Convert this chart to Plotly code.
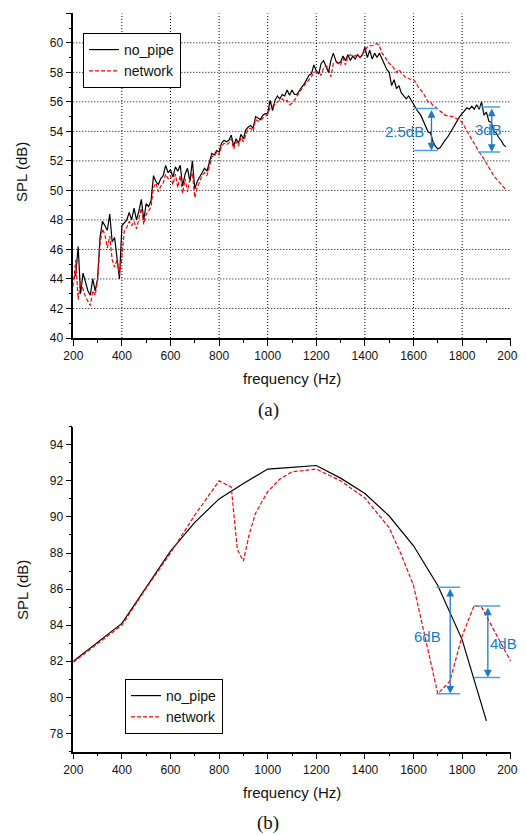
import plotly.graph_objects as go

# ---------------- data: panel (a) ----------------
freq_a = [
    200, 210, 220, 230, 240, 250, 260, 270, 280, 290,
    300, 310, 320, 330, 340, 350, 360, 370, 380, 390,
    400, 410, 420, 430, 440, 450, 460, 470, 480, 490,
    500, 510, 520, 530, 540, 550, 560, 570, 580, 590,
    600, 610, 620, 630, 640, 650, 660, 670, 680, 690,
    700, 710, 720, 730, 740, 750, 760, 770, 780, 790,
    800, 810, 820, 830, 840, 850, 860, 870, 880, 890,
    900, 910, 920, 930, 940, 950, 960, 970, 980, 990,
    1000, 1010, 1020, 1030, 1040, 1050, 1060, 1070, 1080, 1090,
    1100, 1110, 1120, 1130, 1140, 1150, 1160, 1170, 1180, 1190,
    1200, 1210, 1220, 1230, 1240, 1250, 1260, 1270, 1280, 1290,
    1300, 1310, 1320, 1330, 1340, 1350, 1360, 1370, 1380, 1390,
    1400, 1410, 1420, 1430, 1440, 1450, 1460, 1470, 1480, 1490,
    1500, 1510, 1520, 1530, 1540, 1550, 1560, 1570, 1580, 1590,
    1600, 1610, 1620, 1630, 1640, 1650, 1660, 1670, 1680, 1690,
    1700, 1710, 1720, 1730, 1740, 1750, 1760, 1770, 1780, 1790,
    1800, 1810, 1820, 1830, 1840, 1850, 1860, 1870, 1880, 1890,
    1900, 1910, 1920, 1930, 1940, 1950, 1960, 1970, 1980,
]
spl_a_no_pipe = [
    44.0, 44.3, 46.2, 43.0, 44.4, 43.7, 43.2, 42.9, 44.0, 43.2,
    44.0, 46.8, 47.9, 47.6, 47.3, 48.4, 46.5, 46.8, 45.5, 44.0,
    47.6, 47.8, 48.0, 48.5, 48.0, 48.8, 48.0, 48.6, 49.4, 48.0,
    49.1, 48.9, 49.3, 51.0, 50.6, 50.4, 50.8, 51.0, 51.7, 51.2,
    51.4, 50.9, 51.6, 51.3, 51.7, 50.3, 51.1, 51.5, 50.6, 52.0,
    50.1, 50.6, 50.9, 51.2, 51.5, 51.3, 51.9, 52.5, 52.4, 52.7,
    52.6, 53.2, 53.4, 53.3, 53.4, 53.75, 53.0, 53.5, 53.2, 53.8,
    53.5, 54.1, 54.3, 54.4, 54.2, 55.0, 54.9, 54.8, 55.1, 55.2,
    55.2, 56.1, 55.4, 56.1, 56.4, 56.2, 56.5, 56.4, 56.8, 56.45,
    56.8, 56.5, 56.5, 56.8, 57.0, 57.2, 57.5, 57.8, 57.9, 58.5,
    58.1, 57.9, 58.6, 58.8, 58.4, 58.0, 58.8, 59.3, 58.8, 58.6,
    58.7, 59.1, 58.8, 59.2, 58.8, 59.1, 58.9, 59.2, 59.0, 59.2,
    59.7, 59.0, 59.5, 58.9, 59.3, 59.0, 59.3, 58.9, 58.5, 58.2,
    58.0, 57.1, 57.5, 56.9, 57.1, 56.6, 56.4, 56.2, 56.4, 56.1,
    55.9, 55.6, 55.3, 55.1, 54.7, 54.4, 53.95, 53.9, 53.3, 53.0,
    52.8, 52.9, 53.2, 53.4, 53.6, 53.9, 54.2, 54.5, 54.7, 55.0,
    55.2, 55.4, 55.6, 55.5, 55.7, 55.5, 55.8, 55.5, 56.0, 55.1,
    55.3, 54.7, 54.6, 54.0, 53.9, 53.6, 53.4, 53.1, 52.95,
]
spl_a_network = [
    43.5, 45.3, 42.6, 43.8, 43.3, 42.8, 42.5, 42.2, 43.2, 42.9,
    43.9, 46.4, 47.4, 47.0, 46.1, 46.9, 45.3, 44.8, 45.3, 44.3,
    45.5, 47.3, 47.5, 47.9, 47.6, 47.9, 47.4, 48.2, 48.8, 47.7,
    48.4, 48.6, 48.9, 50.2, 50.5, 49.9, 50.3, 50.5, 51.1, 50.8,
    51.0, 50.4, 51.1, 50.2, 51.0, 49.8, 50.8, 49.9, 50.8, 51.2,
    49.5, 50.2, 50.6, 51.0, 51.2, 51.0, 51.6, 52.3, 52.3, 52.6,
    52.4, 53.0, 53.2, 53.1, 53.2, 53.5, 52.8, 53.3, 53.0, 53.6,
    53.3, 53.8, 54.2, 54.2, 54.0, 54.8, 54.7, 54.7, 54.9, 55.0,
    55.2, 55.6, 55.7, 55.8, 56.0, 56.1, 56.2, 56.0, 56.1, 55.8,
    55.9, 56.1, 56.4, 56.6, 56.9, 57.1, 57.3, 57.5, 57.7, 58.0,
    58.05, 58.0, 57.8, 58.3, 58.45, 58.3, 57.7, 58.6, 58.7, 58.6,
    58.5, 58.95, 58.5, 59.1, 59.2, 59.05, 59.15, 59.2, 59.0, 59.3,
    59.5, 59.7, 59.8, 59.8, 59.9, 59.95, 59.8, 59.3, 59.1, 58.8,
    58.6, 58.5, 58.2, 58.0, 58.2, 57.95, 57.8, 57.6, 57.6, 57.5,
    57.5, 57.3, 57.0, 56.8, 56.6, 56.3, 56.0, 56.0, 55.75, 55.65,
    55.5, 55.4, 55.2, 55.1, 55.05, 55.05, 55.0, 54.9, 54.85, 54.8,
    54.6, 54.3, 54.0, 53.7, 53.45, 53.2, 52.9, 52.6, 52.4, 52.1,
    51.8, 51.5, 51.2, 51.0, 50.8, 50.6, 50.4, 50.2, 50.05,
]

# ---------------- data: panel (b) ----------------
freq_b_no_pipe = [200, 300, 400, 500, 600, 700, 800, 900, 1000, 1100,
                  1200, 1300, 1400, 1500, 1600, 1700, 1800, 1900]
spl_b_no_pipe = [82.0, 83.05, 84.1, 86.1, 88.1, 89.7, 91.0, 91.85, 92.65, 92.75,
                 92.85, 92.15, 91.3, 90.05, 88.4, 86.2, 83.2, 78.7]
freq_b_network = [200, 300, 400, 500, 600, 700, 800, 850, 875, 900, 925, 950,
                  1000, 1050, 1100, 1200, 1300, 1400, 1500, 1550, 1600, 1700,
                  1750, 1800, 1850, 1880, 2000]
spl_b_network = [81.95, 82.95, 84.0, 86.05, 88.0, 90.1, 92.0, 91.65, 88.2, 87.55, 89.1, 90.2,
                 91.4, 92.1, 92.5, 92.65, 92.0, 91.05, 89.4, 87.9, 86.2, 80.2,
                 80.9, 83.4, 85.1, 85.0, 82.0]

series_names = ["no_pipe", "network"]

# tick / grid positions of panel (a)
grid_freq_a = [400, 600, 800, 1000, 1200, 1400, 1600, 1800]
grid_spl_a = [42, 44, 46, 48, 50, 52, 54, 56, 58, 60]

# dimension marks: (arrow freq, low dB, high dB, label, label freq, label dB, bar span)
dims_a = [
    (1674, 52.7, 55.55, "2.5dB", 1561, 54.0, (1600, 1700)),
    (1922, 52.6, 55.65, "3dB", 1910, 54.1, (1866, 1957)),
]
dims_b = [
    (1751, 80.2, 86.1, "6dB", 1659, 83.35, (1694, 1792)),
    (1906, 81.1, 85.07, "4dB", 1971, 82.98, (1850, 1957)),
]

# ---------------- layout helpers ----------------
# the page body has an 8px margin, so the figure is drawn 8px smaller and
# positions measured on the 526x835 window are shifted by that offset
OFF = 8
W, H = 526 - OFF, 835 - OFF


def px(x):
    return (x - OFF) / W


def py(y):
    return 1 - (y - OFF) / H


FONT = "Liberation Sans, Arial, sans-serif"
x_dom = [px(73.3), px(510.7)]
ya_dom = [py(338.0), py(13.3)]
yb_dom = [py(751.5), py(426.7)]

LINE_BLUE = "#4aa3dd"
ARROW_BLUE = "#1a7cc4"

fig = go.Figure()
fig.add_trace(go.Scatter(x=freq_a, y=spl_a_no_pipe, mode="lines", name=series_names[0],
                         line=dict(color="black", width=1.2), xaxis="x", yaxis="y", legend="legend"))
fig.add_trace(go.Scatter(x=freq_a, y=spl_a_network, mode="lines", name=series_names[1],
                         line=dict(color="#ff0000", width=1.2, dash="4px,2px"), xaxis="x", yaxis="y",
                         legend="legend"))
fig.add_trace(go.Scatter(x=freq_b_no_pipe, y=spl_b_no_pipe, mode="lines", name=series_names[0],
                         line=dict(color="black", width=1.2), xaxis="x2", yaxis="y2", legend="legend2"))
fig.add_trace(go.Scatter(x=freq_b_network, y=spl_b_network, mode="lines", name=series_names[1],
                         line=dict(color="#ff0000", width=1.2, dash="4px,2px"), xaxis="x2", yaxis="y2",
                         legend="legend2"))

axis_common = dict(showline=True, linecolor="black", linewidth=1.5, ticks="outside",
                   ticklen=6, tickwidth=1.2, tickcolor="black", zeroline=False,
                   showgrid=False, automargin=False,
                   tickfont=dict(family=FONT, size=12, color="#111"))
minor = dict(ticks="outside", ticklen=3, tickwidth=1, tickcolor="black", showgrid=False)

fig.update_layout(
    width=W, height=H, margin=dict(l=0, r=0, t=0, b=0, autoexpand=False),
    paper_bgcolor="white", plot_bgcolor="white",
    font=dict(family=FONT, color="#111"),
    xaxis=dict(domain=x_dom, anchor="y", range=[200, 2000], tick0=200, dtick=200,
               minor=dict(dtick=100, **minor), **axis_common),
    yaxis=dict(domain=ya_dom, anchor="x", range=[40, 62], tick0=40, dtick=2,
               minor=dict(dtick=1, **minor), **axis_common),
    xaxis2=dict(domain=x_dom, anchor="y2", range=[200, 2000], tick0=200, dtick=200,
                minor=dict(dtick=100, **minor), **axis_common),
    yaxis2=dict(domain=yb_dom, anchor="x2", range=[77, 95], tick0=78, dtick=2,
                minor=dict(dtick=1, **minor), **axis_common),
    legend=dict(x=px(83), y=py(33), xanchor="left", yanchor="top", bgcolor="white",
                bordercolor="black", borderwidth=1, font=dict(family=FONT, size=14, color="#111"),
                tracegroupgap=0),
    legend2=dict(x=px(125), y=py(679), xanchor="left", yanchor="top", bgcolor="white",
                 bordercolor="black", borderwidth=1, font=dict(family=FONT, size=14, color="#111"),
                 tracegroupgap=0),
    showlegend=True,
)

shapes = []
GRID = dict(color="black", width=1, dash="1px,2px")
for g in grid_freq_a:
    shapes.append(dict(type="line", xref="x", yref="y", x0=g, x1=g, y0=40, y1=62,
                       line=GRID, layer="below"))
for g in grid_spl_a:
    shapes.append(dict(type="line", xref="x", yref="y", x0=200, x1=2000, y0=g, y1=g,
                       line=GRID, layer="below"))

annotations = []
for (xr, yr, dims) in (("x", "y", dims_a), ("x2", "y2", dims_b)):
    for f, lo, hi, label, lx, ly, (x0, x1) in dims:
        for v in (lo, hi):
            shapes.append(dict(type="line", xref=xr, yref=yr, x0=x0, x1=x1, y0=v, y1=v,
                               line=dict(color=LINE_BLUE, width=1.5)))
        annotations.append(dict(x=f, y=lo, ax=f, ay=hi, xref=xr, yref=yr, axref=xr, ayref=yr,
                                text="", showarrow=True, arrowhead=2, arrowside="end+start",
                                arrowsize=1.2, arrowwidth=1.3, arrowcolor=ARROW_BLUE,
                                standoff=0, startstandoff=0))
        annotations.append(dict(x=lx, y=ly, xref=xr, yref=yr, text=label, showarrow=False,
                                xanchor="center", yanchor="middle",
                                font=dict(family=FONT, size=15, color=ARROW_BLUE)))

# axis titles and captions
centered = dict(xref="paper", yref="paper", showarrow=False, xanchor="center", yanchor="middle")
for yc in (172, 590):
    annotations.append(dict(x=px(22), y=py(yc), text="SPL (dB)", textangle=-90,
                            font=dict(family=FONT, size=15, color="#111"), **centered))
for yc in (379, 792):
    annotations.append(dict(x=px(292), y=py(yc), text="frequency (Hz)",
                            font=dict(family=FONT, size=15, color="#111"), **centered))
for yc, cap in ((410, "(a)"), (823, "(b)")):
    annotations.append(dict(x=px(268), y=py(yc), text=cap,
                            font=dict(family="Liberation Serif, Times New Roman, serif", size=19,
                                      color="#111"), **centered))

fig.update_layout(annotations=annotations, shapes=shapes)
fig.write_html("out.html")
